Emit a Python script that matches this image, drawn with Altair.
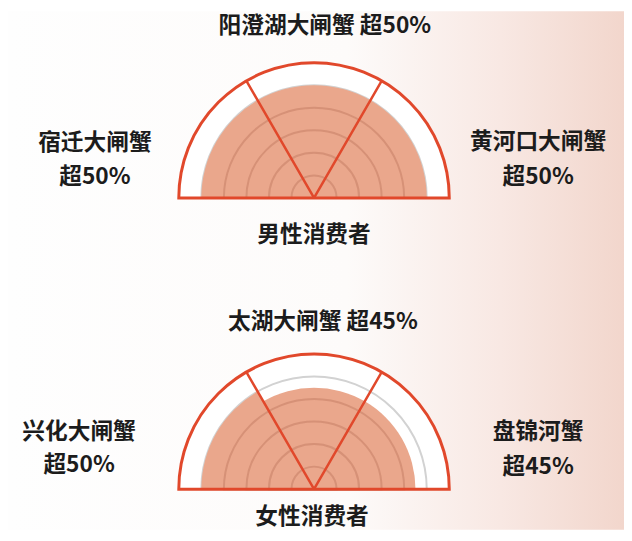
import math
import altair as alt
import pandas as pd

# ---------------- data ----------------
groups = ["男性消费者", "女性消费者"]
male_brands = ["宿迁大闸蟹", "阳澄湖大闸蟹", "黄河口大闸蟹"]
male_shares = [50, 50, 50]
female_brands = ["兴化大闸蟹", "太湖大闸蟹", "盘锦河蟹"]
female_shares = [50, 45, 45]
ring_levels = [10, 20, 30, 40, 50]
scale_max = 60

# ---------------- layout / style ----------------
W, H = 624, 525
R = 137
CENTERS = [(310, 189), (310, 484)]
FONT = "Noto Sans CJK SC"
FS = 23
TXT = "#1c1c1c"
RED = "#e1482b"
SALMON = "#eaa78c"
# label positions per group: left (x, y1, y2), top (x, y), right (x, y1, y2), caption (x, y)
LABEL_POS = [
    {"left": (88, 133, 168), "top": (321, 15), "right": (537, 132, 168), "cap": (310, 227)},
    {"left": (72, 426, 460), "top": (319, 315), "right": (537, 426, 462), "cap": (308, 512)},
]

START = 1.5 * math.pi          # 9 o'clock in Vega's angle convention
SPAN = math.pi / 3             # each brand sector: 60 degrees

rscale = alt.Scale(type="linear", domain=[0, scale_max], range=[0, R], zero=True)

layers = []

# background gradient
bg = alt.Chart(pd.DataFrame({"k": [0]})).mark_rect(
    color=alt.Gradient(
        gradient="linear",
        stops=[
            alt.GradientStop(color="#fefefe", offset=0),
            alt.GradientStop(color="#fdfbfa", offset=0.55),
            alt.GradientStop(color="#f8e8e3", offset=0.8),
            alt.GradientStop(color="#f2d6cc", offset=1),
        ],
        x1=0, x2=1, y1=0, y2=0,
    )
).encode(x=alt.value(0), x2=alt.value(W), y=alt.value(0), y2=alt.value(H))
layers.append(bg)


def text_layer(s, x, y):
    return alt.Chart(pd.DataFrame({"t": [s]})).mark_text(
        font=FONT, fontSize=FS, fontWeight="bold", color=TXT,
        align="center", baseline="middle",
    ).encode(text="t:N", x=alt.value(x), y=alt.value(y))


for gi, (group, brands, shares) in enumerate(
    [(groups[0], male_brands, male_shares), (groups[1], female_brands, female_shares)]
):
    cx, cy = CENTERS[gi]
    pos = alt.value(cx), alt.value(cy)

    frame = pd.DataFrame({"v": [scale_max], "a": [START], "b": [START + math.pi]})
    sectors = pd.DataFrame({
        "brand": brands,
        "v": shares,
        "a": [START + i * SPAN for i in range(len(brands))],
        "b": [START + (i + 1) * SPAN for i in range(len(brands))],
    })
    rings = pd.DataFrame({"v": ring_levels, "a": START, "b": START + math.pi})
    inner = rings[rings["v"] < min(shares)]
    dividers = pd.DataFrame({
        "v": scale_max,
        "a": [START + i * SPAN for i in range(1, len(brands))],
    })

    def arc(df, **mk):
        return alt.Chart(df).mark_arc(**mk).encode(
            x=pos[0], y=pos[1],
            theta=alt.Theta("a:Q", scale=None, stack=False),
            theta2="b:Q",
            radius=alt.Radius("v:Q", scale=rscale),
        )

    layers.append(arc(frame, color="white"))
    layers.append(arc(rings, filled=False, stroke="#d2d2d2", strokeWidth=2))
    layers.append(arc(sectors, color=SALMON))
    layers.append(arc(inner, filled=False, stroke="#9c4f36", strokeOpacity=0.25, strokeWidth=2))
    layers.append(
        alt.Chart(dividers).mark_arc(filled=False, stroke=RED, strokeWidth=2.5).encode(
            x=pos[0], y=pos[1],
            theta=alt.Theta("a:Q", scale=None, stack=False),
            theta2="a:Q",
            radius=alt.Radius("v:Q", scale=rscale),
        )
    )
    layers.append(arc(frame, filled=False, stroke=RED, strokeWidth=3))

    lp = LABEL_POS[gi]
    lx, ly1, ly2 = lp["left"]
    layers.append(text_layer(brands[0], lx, ly1))
    layers.append(text_layer(f"超{shares[0]}%", lx, ly2))
    tx, ty = lp["top"]
    layers.append(text_layer(f"{brands[1]} 超{shares[1]}%", tx, ty))
    rx, ry1, ry2 = lp["right"]
    layers.append(text_layer(brands[2], rx, ry1))
    layers.append(text_layer(f"超{shares[2]}%", rx, ry2))
    capx, capy = lp["cap"]
    layers.append(text_layer(group, capx, capy))

chart = alt.layer(*layers).properties(
    width=W, height=H, padding=0, autosize="none", background="white"
).configure_view(stroke=None)

chart.save("out.html", embed_options={"renderer": "svg", "actions": False})
